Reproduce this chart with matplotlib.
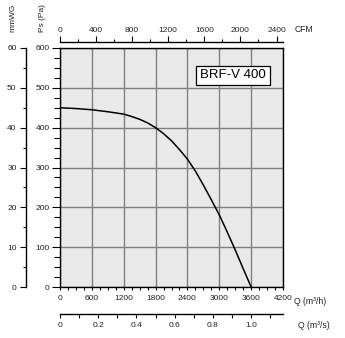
import matplotlib
matplotlib.use("Agg")
import matplotlib.pyplot as plt
from matplotlib.ticker import MultipleLocator

# fan curve: Q (m3/h) vs static pressure (Pa)
q_m3h = [0, 300, 600, 900, 1200, 1350, 1500, 1650, 1800, 1950, 2100, 2250, 2400,
         2550, 2700, 2850, 3000, 3150, 3300, 3450, 3600]
ps_pa = [450, 448, 445, 440, 434, 428, 421, 412, 400, 385, 367, 345, 321,
         291, 256, 219, 181, 138, 93, 46, 0]
model = "BRF-V 400"

small = ['Liberation Sans Narrow', 'Liberation Sans', 'DejaVu Sans']
plt.rcParams['font.family'] = small
plt.rcParams['font.size'] = 6
txt_col = '#222222'

W, H = 345, 338
fig = plt.figure(figsize=(W / 100, H / 100), dpi=100)
L, R, T, B = 60, 283, 48, 287
ax = fig.add_axes([L / W, (H - B) / H, (R - L) / W, (B - T) / H])

ax.set_facecolor('#e9e9e9')
ax.plot(q_m3h, ps_pa, color='black', lw=1.1, zorder=3)
ax.set_xlim(0, 4200)
ax.set_ylim(0, 600)
ax.xaxis.set_major_locator(MultipleLocator(600))
ax.xaxis.set_minor_locator(MultipleLocator(150))
ax.yaxis.set_major_locator(MultipleLocator(100))
ax.yaxis.set_minor_locator(MultipleLocator(25))
ax.grid(True, which='major', color='#808080', lw=1.0, zorder=1)
for s in ax.spines.values():
    s.set_linewidth(1.0)
ax.tick_params(axis='x', which='both', length=2.2, width=0.8, pad=3.5, labelcolor=txt_col)
ax.tick_params(axis='y', which='major', length=6, width=0.8, pad=1.5, labelcolor=txt_col)
ax.tick_params(axis='y', which='minor', length=4, width=0.8)

# top CFM axis
cfm = ax.secondary_xaxis(1 + 6 / (B - T), functions=(lambda x: x / 1.699, lambda x: x * 1.699))
cfm.xaxis.set_major_locator(MultipleLocator(400))
cfm.xaxis.set_minor_locator(MultipleLocator(200))
cfm.tick_params(which='major', length=4.3, width=0.8, pad=1.5, labelcolor=txt_col)
cfm.tick_params(which='minor', length=2.2, width=0.8)
cfm.spines['top'].set_linewidth(1.0)

# bottom m3/s axis
qs = ax.secondary_xaxis(-27 / (B - T), functions=(lambda x: x / 3600, lambda x: x * 3600))
qs.xaxis.set_major_locator(MultipleLocator(0.2))
qs.xaxis.set_minor_locator(MultipleLocator(0.1))
qs.xaxis.set_major_formatter(lambda v, p: '0' if abs(v) < 1e-9 else f'{v:.1f}')
qs.tick_params(which='both', length=3, width=0.8, pad=2.5, labelcolor=txt_col)
qs.spines['bottom'].set_linewidth(1.0)

# left mmWG axis
mm = ax.secondary_yaxis(-34 / (R - L), functions=(lambda y: y / 10, lambda y: y * 10))
mm.yaxis.set_major_locator(MultipleLocator(10))
mm.yaxis.set_minor_locator(MultipleLocator(5))
mm.tick_params(which='major', length=4.3, width=0.8, pad=2.5, labelcolor=txt_col)
mm.tick_params(which='minor', length=2.2, width=0.8)
mm.spines['left'].set_linewidth(1.0)

ax.text(0.775, 0.885, model, transform=ax.transAxes, ha='center', va='center',
        fontsize=9.5, family=['Liberation Sans', 'DejaVu Sans'], zorder=5,
        bbox=dict(boxstyle='square,pad=0.3', fc='white', ec='black', lw=0.9))

fig.text(295 / W, 1 - 29 / H, 'CFM', ha='left', va='center', color=txt_col, fontsize=6.2)
fig.text(294 / W, 1 - 301 / H, 'Q (m³/h)', ha='left', va='center', color=txt_col, fontsize=6.2)
fig.text(298 / W, 1 - 326 / H, 'Q (m³/s)', ha='left', va='center', color=txt_col, fontsize=6.2)
fig.text(43 / W, 1 - 18 / H, 'Ps (Pa)', ha='center', va='center', rotation=90, color=txt_col, fontsize=6)
fig.text(13 / W, 1 - 18 / H, 'mmWG', ha='center', va='center', rotation=90, color=txt_col, fontsize=6)

fig.savefig('out.png', dpi=100, facecolor='white')
